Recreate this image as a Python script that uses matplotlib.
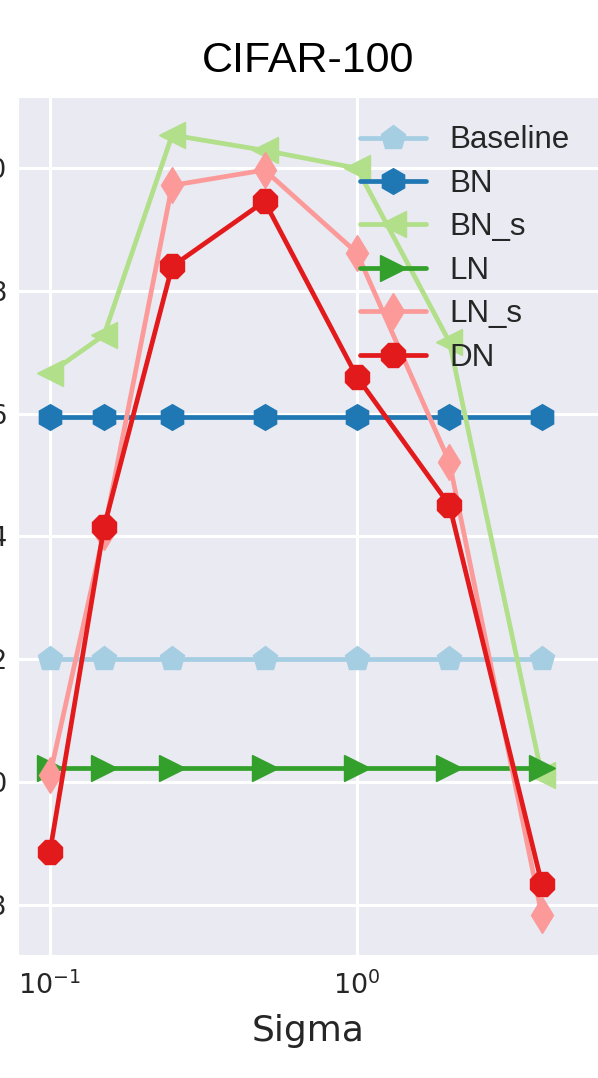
import numpy as np
import matplotlib
matplotlib.use("Agg")
import matplotlib.pyplot as plt
import seaborn as sns

# sigma values on the x axis
sigma = [0.1, 0.15, 0.25, 0.5, 1.0, 2.0, 4.0]

# accuracy per method
baseline = [62.0, 62.0, 62.0, 62.0, 62.0, 62.0, 62.0]
bn = [65.95, 65.95, 65.95, 65.95, 65.95, 65.95, 65.95]
bn_s = [66.66, 67.28, 70.54, 70.29, 70.0, 67.17, 60.11]
ln = [60.23, 60.23, 60.23, 60.23, 60.23, 60.23, 60.23]
ln_s = [60.11, 64.07, 69.72, 69.97, 68.62, 65.21, 57.83]
dn = [58.86, 64.15, 68.40, 69.46, 66.60, 64.51, 58.34]

labels = ["Baseline", "BN", "BN_s", "LN", "LN_s", "DN"]
markers = ["p", "h", "<", ">", "d", "8"]
yticks = [58, 60, 62, 64, 66, 68, 70]

sns.set_style("darkgrid")
colors = sns.color_palette("Paired", 6)

fig = plt.figure(figsize=(5.98, 10.78), dpi=100)
ax = fig.add_axes([18 / 598, 1 - 955 / 1078, 580 / 598, 858 / 1078])

series = [baseline, bn, bn_s, ln, ln_s, dn]
for vals, lab, mk, c in zip(series, labels, markers, colors):
    ax.plot(sigma, vals, marker=mk, color=c, label=lab,
            linewidth=3.4, markersize=18.5)

ax.set_xscale("log")
ax.set_xlim(10 ** -1.104, 10 ** 0.785)
ax.set_ylim(57.18, 71.16)
ax.set_yticks(yticks)
ax.grid(True, color="white", linewidth=2.2)
ax.tick_params(axis="y", labelsize=18.8, pad=8, colors="#262626", length=0)
ax.tick_params(axis="x", labelsize=19.5, pad=12, colors="#262626", length=0)

ax.set_xlabel("Sigma", fontsize=26, color="#262626", labelpad=10)
ax.set_title("CIFAR-100", fontsize=31, family="Liberation Sans",
             color="black", pad=18)

leg = ax.legend(loc="upper right", frameon=False,
                prop={"family": "Liberation Sans", "size": 22.5},
                handlelength=2.1, handletextpad=0.75, labelspacing=0.43,
                borderaxespad=0.51)
for t in leg.get_texts():
    t.set_color("#262626")

fig.savefig("out.png", dpi=100)
plt.close(fig)
